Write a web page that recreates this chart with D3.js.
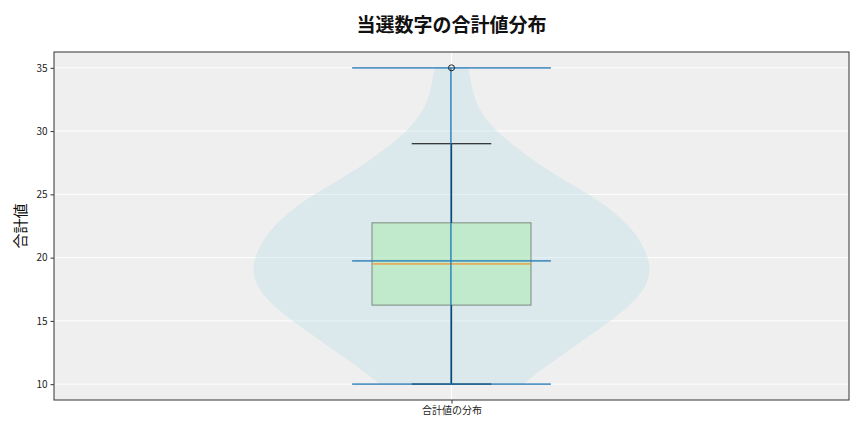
<!DOCTYPE html>
<html><head><meta charset="utf-8">
<script src="https://cdn.jsdelivr.net/npm/d3@7"></script>
<style>
html,body{margin:0;padding:0;background:#fff;}
svg{display:block;font-family:"Noto Sans CJK JP","Noto Sans",sans-serif;}
</style></head>
<body><svg id="c" width="864" height="432"></svg>
<script>
// ---- data ----
const category = "合計値の分布";
const title = "当選数字の合計値分布";
const yLabel = "合計値";
const yTicks = [10, 15, 20, 25, 30, 35];
// violin density profile (relative half-width) at each value
const densityValues = [10,11,12,13,14,15,16,17,18,19,20,21,22,23,24,25,26,27,28,29,30,31,32,33,34,35];
const densityWidths = [0.36,0.44,0.53,0.62,0.71,0.80,0.88,0.945,0.985,1.0,0.99,0.96,0.92,0.86,0.785,0.69,0.58,0.475,0.385,0.30,0.225,0.17,0.13,0.11,0.095,0.085];
const dataMin = 10, dataMax = 35, dataMean = 19.75;
const q1 = 16.25, median = 19.5, q3 = 22.75;
const whiskerLow = 10, whiskerHigh = 29;
const fliers = [35];

// ---- layout ----
const svg = d3.select("#c");
const L = 54, R = 849, T = 52, B = 400;
const pos = 1;
const x = d3.scaleLinear().domain([0.5, 1.5]).range([L, R]);
const y = d3.scaleLinear().domain([8.75, 36.25]).range([B, T]);
const unit = x(1) - x(0);

svg.append("rect").attr("x", L).attr("y", T).attr("width", R - L).attr("height", B - T).attr("fill", "#efefef");

// grid
svg.append("g").selectAll("line").data(yTicks).join("line")
  .attr("x1", L).attr("x2", R).attr("y1", d => y(d)).attr("y2", d => y(d))
  .attr("stroke", "#fff").attr("stroke-width", 1);
svg.append("line").attr("x1", x(pos)).attr("x2", x(pos)).attr("y1", T).attr("y2", B)
  .attr("stroke", "#fff").attr("stroke-width", 1);

// violin (width 0.5 → half-width 0.25)
const vHalf = 0.25 * unit;
const pts = densityValues.map((v, i) => [v, densityWidths[i]]);
const area = d3.area()
  .y(d => y(d[0]))
  .x0(d => x(pos) - d[1] * vHalf)
  .x1(d => x(pos) + d[1] * vHalf)
  .curve(d3.curveBasis);
svg.append("path").datum(pts).attr("d", area)
  .attr("fill", "#add8e6").attr("fill-opacity", 0.3);

// box
const bHalf = 0.1 * unit;
svg.append("rect").attr("x", x(pos) - bHalf).attr("width", 2 * bHalf)
  .attr("y", y(q3)).attr("height", y(q1) - y(q3))
  .attr("fill", "#90ee90").attr("fill-opacity", 0.35)
  .attr("stroke", "#7c8a80").attr("stroke-width", 1);
// whiskers
const wg = svg.append("g").attr("stroke", "#000").attr("stroke-width", 1.2);
wg.append("line").attr("x1", x(pos)).attr("x2", x(pos)).attr("y1", y(q3)).attr("y2", y(whiskerHigh));
wg.append("line").attr("x1", x(pos)).attr("x2", x(pos)).attr("y1", y(q1)).attr("y2", y(whiskerLow));
const cHalf = 0.05 * unit;
[whiskerLow, whiskerHigh].forEach(v => {
  wg.append("line").attr("x1", x(pos) - cHalf).attr("x2", x(pos) + cHalf).attr("y1", y(v)).attr("y2", y(v));
});
// median
svg.append("line").attr("x1", x(pos) - bHalf).attr("x2", x(pos) + bHalf)
  .attr("y1", y(median)).attr("y2", y(median)).attr("stroke", "#ff7f0e").attr("stroke-width", 1);

// violin lines
const lHalf = 0.125 * unit;
const lg = svg.append("g").attr("stroke", "#1f77b4").attr("stroke-opacity", 0.75).attr("stroke-width", 1.8);
lg.append("line").attr("x1", x(pos) - 0.6).attr("x2", x(pos) - 0.6).attr("y1", y(dataMin)).attr("y2", y(dataMax));
[dataMin, dataMax, dataMean].forEach(v => {
  lg.append("line").attr("x1", x(pos) - lHalf).attr("x2", x(pos) + lHalf).attr("y1", y(v)).attr("y2", y(v));
});

// fliers
svg.append("g").selectAll("circle").data(fliers).join("circle")
  .attr("cx", x(pos)).attr("cy", d => y(d)).attr("r", 3)
  .attr("fill", "none").attr("stroke", "#222").attr("stroke-width", 1);

// frame
svg.append("rect").attr("x", L).attr("y", T).attr("width", R - L).attr("height", B - T)
  .attr("fill", "none").attr("stroke", "#333").attr("stroke-width", 1);

// axes
const yAxis = d3.axisLeft(y).tickValues(yTicks).tickSize(3.5).tickPadding(3);
const ya = svg.append("g").attr("transform", `translate(${L},0)`).call(yAxis);
ya.select(".domain").remove();
ya.selectAll("text").attr("font-size", 10).attr("fill", "#222").style("font-family", '"Noto Sans CJK JP","Noto Sans",sans-serif');
ya.selectAll("line").attr("stroke", "#333");

const xAxis = d3.axisBottom(x).tickValues([pos]).tickFormat(() => category).tickSize(3.5).tickPadding(3);
const xa = svg.append("g").attr("transform", `translate(0,${B})`).call(xAxis);
xa.select(".domain").remove();
xa.selectAll("text").attr("font-size", 10).attr("fill", "#222").style("font-family", '"Noto Sans CJK JP","Noto Sans",sans-serif');
xa.selectAll("line").attr("stroke", "#333");

// title & labels
svg.append("text").attr("x", (L + R) / 2).attr("y", 32).attr("text-anchor", "middle")
  .attr("font-size", 19).attr("font-weight", "bold").attr("fill", "#111").text(title);
svg.append("text").attr("transform", `translate(26,${(T + B) / 2}) rotate(-90)`)
  .attr("text-anchor", "middle").attr("font-size", 15).attr("fill", "#111").text(yLabel);
</script></body></html>
